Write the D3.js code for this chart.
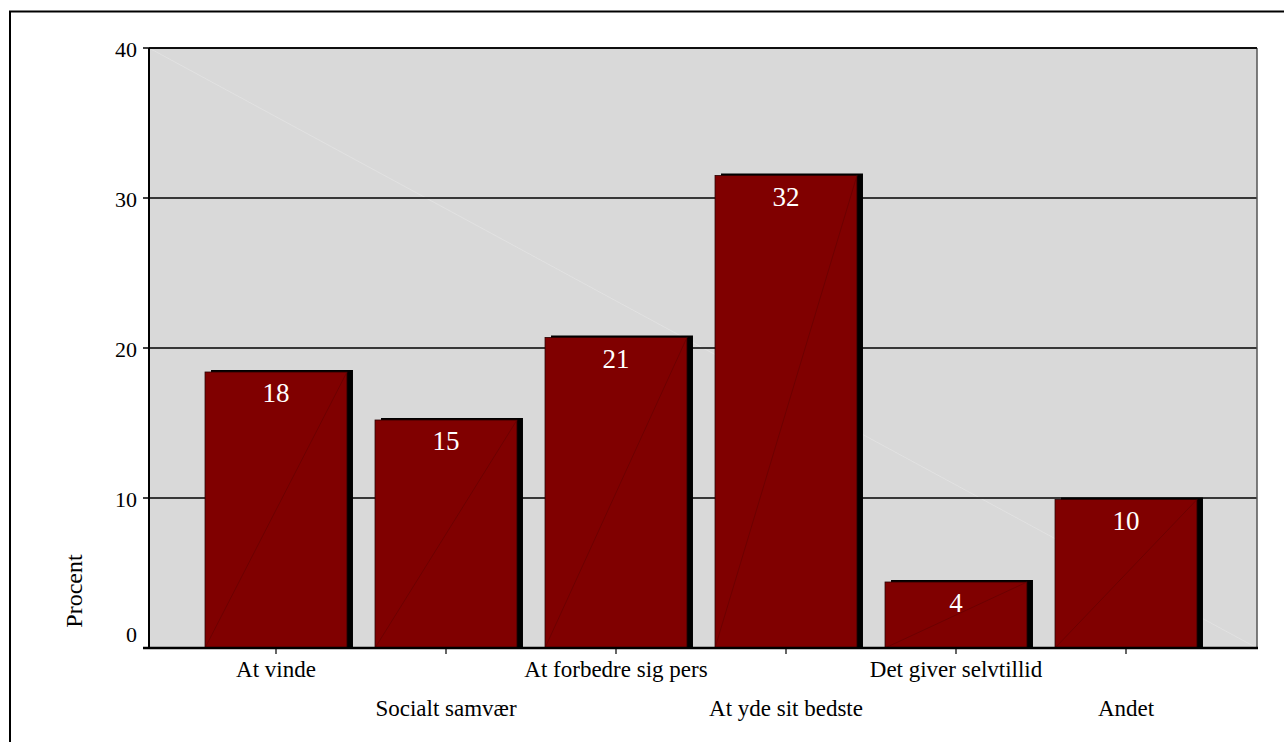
<!DOCTYPE html>
<html><head><meta charset="utf-8">
<script src="https://cdn.jsdelivr.net/npm/d3@7"></script>
<style>html,body{margin:0;padding:0;background:#fff;}svg{display:block;}</style>
</head><body>
<script>
const categories = ["At vinde","Socialt samvær","At forbedre sig pers","At yde sit bedste","Det giver selvtillid","Andet"];
const values = [18.4, 15.2, 20.7, 31.5, 4.4, 9.9];
const valueLabels = ["18","15","21","32","4","10"];
const yTicks = [0,10,20,30,40];
const yTitle = "Procent";

const W = 1284, H = 742;
const svg = d3.select("body").append("svg").attr("width", W).attr("height", H);
const font = "'Liberation Serif','Times New Roman',serif";

// outer frame
svg.append("rect").attr("x",10).attr("y",11.5).attr("width",1290).attr("height",760)
  .attr("fill","#fff").attr("stroke","#000").attr("stroke-width",2);

const plot = {left:149, right:1257, top:48, bottom:648};
const y = d3.scaleLinear().domain([0,40]).range([plot.bottom, plot.top]);
const x = d3.scaleBand().domain(categories).range([191,1211]).paddingInner(0.165).paddingOuter(0.0825);

// background
svg.append("rect").attr("x",plot.left).attr("y",plot.top).attr("width",plot.right-plot.left).attr("height",plot.bottom-plot.top)
  .attr("fill","#d9d9d9");
svg.append("line").attr("x1",plot.left).attr("y1",plot.top).attr("x2",plot.right).attr("y2",plot.bottom)
  .attr("stroke","#e3e3e3").attr("stroke-width",0.8);

// gridlines
svg.append("g").selectAll("line").data(yTicks.filter(d=>d>0)).join("line")
  .attr("x1",plot.left).attr("x2",plot.right).attr("y1",d=>y(d)).attr("y2",d=>y(d))
  .attr("stroke","#000").attr("stroke-width",1.5);
// right border
svg.append("line").attr("x1",plot.right).attr("x2",plot.right).attr("y1",plot.top).attr("y2",plot.bottom)
  .attr("stroke","#555").attr("stroke-width",1.5);

// bars
const bars = svg.append("g").selectAll("g").data(categories).join("g");
bars.append("rect")
  .attr("x",d=>x(d)+6).attr("y",(d,i)=>y(values[i])-2)
  .attr("width",x.bandwidth()).attr("height",(d,i)=>y(0)-y(values[i])+1)
  .attr("fill","#000");
bars.append("rect")
  .attr("x",d=>x(d)).attr("y",(d,i)=>y(values[i]))
  .attr("width",x.bandwidth()).attr("height",(d,i)=>y(0)-y(values[i]))
  .attr("fill","#800000").attr("stroke","#2a0000").attr("stroke-width",0.8);
bars.append("line")
  .attr("x1",d=>x(d)).attr("y1",y(0))
  .attr("x2",d=>x(d)+x.bandwidth()).attr("y2",(d,i)=>y(values[i]))
  .attr("stroke","#640000").attr("stroke-width",0.7);
bars.append("text")
  .attr("x",d=>x(d)+x.bandwidth()/2).attr("y",(d,i)=>y(values[i])+30)
  .attr("text-anchor","middle").attr("fill","#fff")
  .attr("font-family",font).attr("font-size",27)
  .text((d,i)=>valueLabels[i]);

// axes
svg.append("line").attr("x1",plot.left).attr("x2",plot.left).attr("y1",plot.top).attr("y2",plot.bottom)
  .attr("stroke","#000").attr("stroke-width",2);
svg.append("line").attr("x1",plot.left).attr("x2",plot.right).attr("y1",plot.top).attr("y2",plot.top)
  .attr("stroke","#000").attr("stroke-width",1.5);
svg.append("line").attr("x1",plot.left-6).attr("x2",plot.right+1).attr("y1",plot.bottom).attr("y2",plot.bottom)
  .attr("stroke","#000").attr("stroke-width",2.5);

// y ticks
const yg = svg.append("g");
yg.selectAll("line").data(yTicks).join("line")
  .attr("x1",plot.left-6).attr("x2",plot.left).attr("y1",d=>y(d)).attr("y2",d=>y(d))
  .attr("stroke","#000").attr("stroke-width",1.5);
yg.selectAll("text").data(yTicks).join("text")
  .attr("x",137).attr("y",d=>y(d)).attr("dy",d=>d===0?"-0.27em":"0.4em")
  .attr("text-anchor","end").attr("font-family",font).attr("font-size",22)
  .text(d=>d);

// x ticks & labels
const xg = svg.append("g");
xg.selectAll("line").data(categories).join("line")
  .attr("x1",d=>x(d)+x.bandwidth()/2).attr("x2",d=>x(d)+x.bandwidth()/2)
  .attr("y1",plot.bottom).attr("y2",plot.bottom+6)
  .attr("stroke","#000").attr("stroke-width",1.2);
xg.selectAll("text").data(categories).join("text")
  .attr("x",d=>x(d)+x.bandwidth()/2).attr("y",(d,i)=>i%2===0?677:716)
  .attr("text-anchor","middle").attr("font-family",font).attr("font-size",23)
  .text(d=>d);

svg.append("text").attr("transform","translate(82,591) rotate(-90)")
  .attr("text-anchor","middle").attr("font-family",font).attr("font-size",24)
  .text(yTitle);
</script>
</body></html>
